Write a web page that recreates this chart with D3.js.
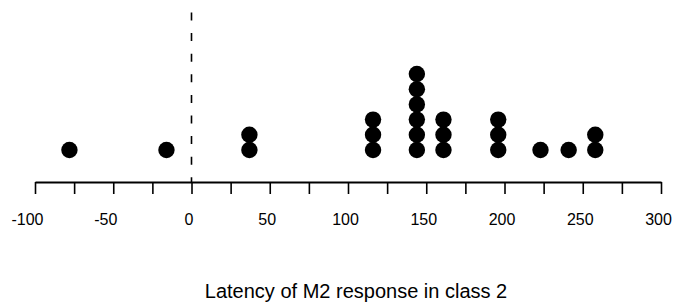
<!DOCTYPE html>
<html>
<head>
<meta charset="utf-8">
<script src="https://cdn.jsdelivr.net/npm/d3@7"></script>
<style>
  html, body { margin: 0; padding: 0; background: #fff; }
  svg { display: block; }
  text { font-family: "Liberation Sans", Arial, Helvetica, sans-serif; fill: #000; }
</style>
</head>
<body>
<svg id="chart" width="674" height="307"></svg>
<script>
// Data
const latencies = [-78, -16, 37, 116, 144, 161, 196, 223, 241, 258];
const counts    = [1, 1, 2, 3, 6, 3, 3, 1, 1, 2];
const tickValues = [-100, -75, -50, -25, 0, 25, 50, 75, 100, 125, 150, 175, 200, 225, 250, 275, 300];
const tickLabels = ["-100", "", "-50", "", "0", "", "50", "", "100", "", "150", "", "200", "", "250", "", "300"];
const xTitle = "Latency of M2 response in class 2";

const svg = d3.select("#chart");
const axisY = 182;

const x = d3.scaleLinear().domain([-100, 300]).range([35, 661]);
const y = d3.scaleLinear().domain([1, 6]).range([150, 74]);

// dashed zero line
svg.append("line")
  .attr("x1", x(0)).attr("x2", x(0))
  .attr("y1", 12.5).attr("y2", axisY)
  .attr("stroke", "#000").attr("stroke-width", 1.6)
  .attr("stroke-dasharray", "8,12.6");

// dots
const dots = [];
latencies.forEach((v, i) => {
  for (let k = 1; k <= counts[i]; k++) dots.push({ v, k });
});
svg.append("g").selectAll("circle")
  .data(dots)
  .join("circle")
  .attr("cx", d => x(d.v))
  .attr("cy", d => y(d.k))
  .attr("r", 8.2)
  .attr("fill", "#000");

// axis
const axis = d3.axisBottom(x)
  .tickValues(tickValues)
  .tickSize(12)
  .tickSizeOuter(0)
  .tickFormat((d, i) => tickLabels[i]);

const gAxis = svg.append("g")
  .attr("transform", `translate(0,${axisY})`)
  .call(axis);
gAxis.select(".domain").attr("stroke", "#000").attr("stroke-width", 2);
gAxis.selectAll(".tick line").attr("stroke", "#000").attr("stroke-width", 1.6);
gAxis.selectAll(".tick text")
  .attr("y", 43)
  .attr("dy", 0)
  .attr("dx", d => d < 0 ? -8 : -3)
  .style("font-size", "16px")
  .style("font-family", "'Liberation Sans', Arial, sans-serif")
  .attr("fill", "#000");

// x title
svg.append("text")
  .attr("x", 356)
  .attr("y", 298)
  .attr("text-anchor", "middle")
  .style("font-size", "20px")
  .text(xTitle);
</script>
</body>
</html>
